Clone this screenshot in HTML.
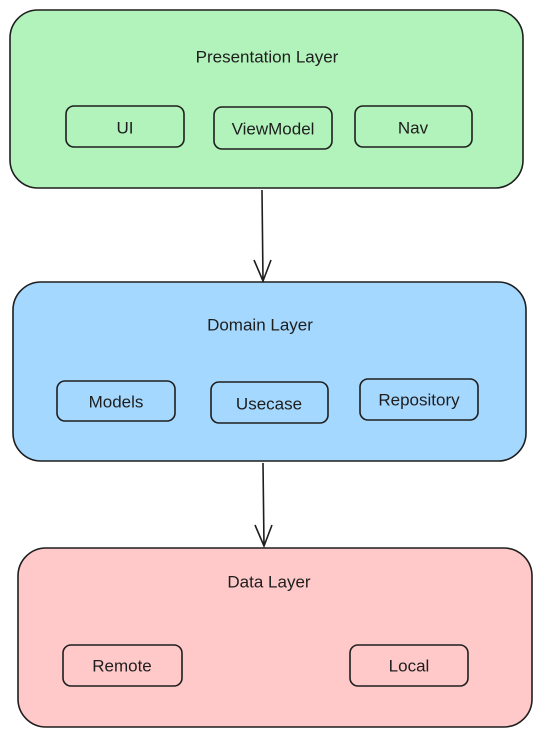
<!DOCTYPE html>
<html><head><meta charset="utf-8"><style>
html,body{margin:0;padding:0;background:#fff;width:542px;height:737px;overflow:hidden}
svg text{font-family:"Liberation Sans",sans-serif;font-size:17px;fill:#1e1e1e;text-anchor:middle;dominant-baseline:middle}
</style></head><body>
<svg width="542" height="737" viewBox="0 0 542 737" xmlns="http://www.w3.org/2000/svg">
<g stroke="#1e1e1e" stroke-width="1.6" fill="none">
<rect x="10" y="10" width="513" height="178" rx="28" fill="#b2f2bb"/>
<rect x="13" y="282" width="513" height="179" rx="28" fill="#a5d8ff"/>
<rect x="18" y="548" width="514" height="179" rx="28" fill="#ffc9c9"/>
<rect x="66" y="106" width="118" height="41" rx="8"/>
<rect x="214" y="107" width="118" height="42" rx="8"/>
<rect x="355" y="106" width="117" height="41" rx="8"/>
<rect x="57" y="381" width="118" height="40" rx="8"/>
<rect x="211" y="382" width="117" height="41" rx="8"/>
<rect x="360" y="379" width="118" height="41" rx="8"/>
<rect x="63" y="645" width="119" height="41" rx="8"/>
<rect x="350" y="645" width="118" height="41" rx="8"/>
<path d="M262 190 L263 281 M254 260 L263 281 L271 260"/>
<path d="M263 463 L264 546 M255 525 L264 546 L272 525"/>
</g>
<text x="267" y="58">Presentation Layer</text>
<text x="125" y="129">UI</text>
<text x="273" y="130">ViewModel</text>
<text x="413" y="129">Nav</text>
<text x="260" y="326">Domain Layer</text>
<text x="116" y="403">Models</text>
<text x="269" y="405">Usecase</text>
<text x="419" y="401">Repository</text>
<text x="269" y="583">Data Layer</text>
<text x="122" y="667">Remote</text>
<text x="409" y="667">Local</text>
</svg>
</body></html>
